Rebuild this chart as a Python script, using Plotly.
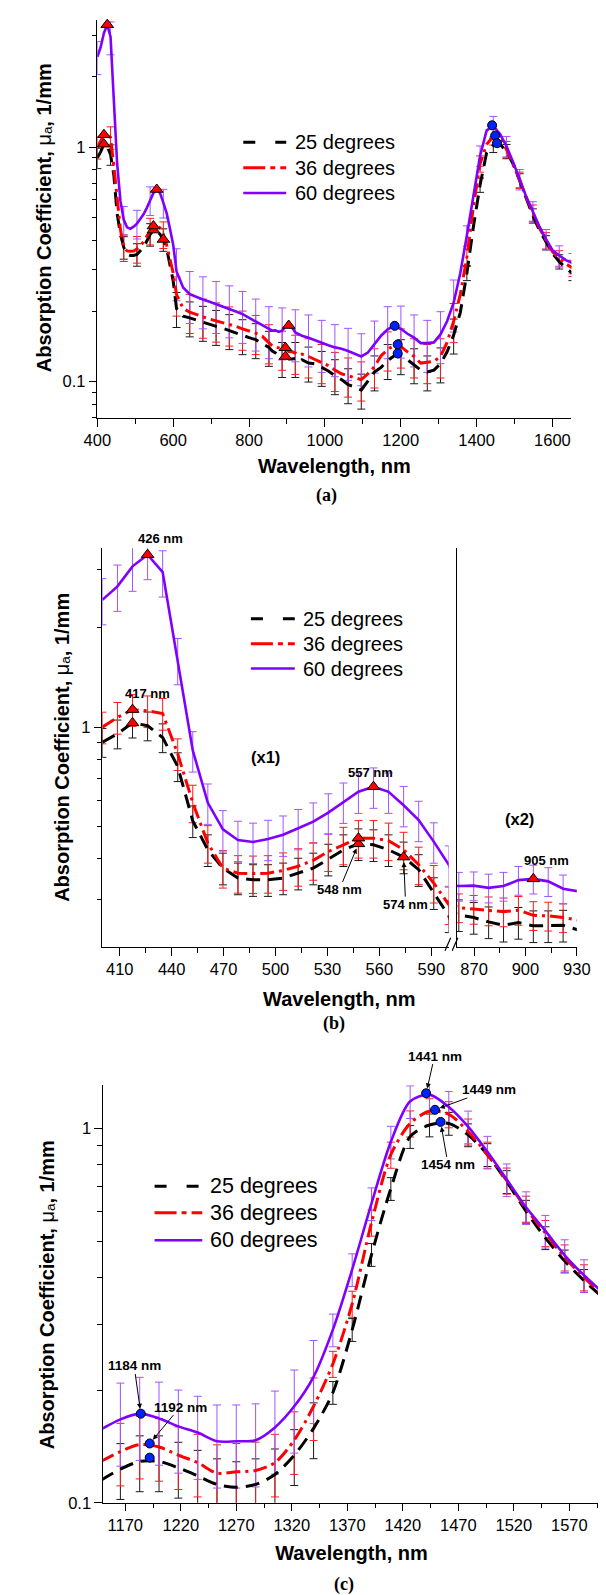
import math
import plotly.graph_objects as go

W, H = 606, 1595
SANS = "Liberation Sans, Arial, Helvetica, sans-serif"
SERIF = "Liberation Serif, Times New Roman, serif"

# ---------------- data ----------------
wavelength = [
    400.0, 408.7, 417.4, 426.1, 434.8, 443.5, 452.2, 460.9, 469.6, 478.3, 487.0, 495.7,
    504.4, 513.1, 521.8, 530.5, 539.2, 547.9, 556.6, 565.3, 574.0, 582.7, 591.4, 600.1,
    608.8, 626.2, 643.6, 661.0, 678.4, 695.8, 713.2, 730.6, 748.0, 765.4, 782.8, 800.2,
    817.6, 835.0, 852.4,
    861.1, 869.8, 878.5, 887.2, 895.9, 904.6, 913.3, 922.0, 930.7,
    939.4, 956.8, 974.2, 991.6, 1009.0, 1026.4, 1043.8, 1061.2, 1078.6, 1096.0, 1113.4,
    1130.8, 1148.2,
    1165.6, 1183.0, 1200.4, 1217.8, 1235.2, 1252.6, 1270.0, 1287.4, 1304.8, 1322.2,
    1339.6, 1357.0, 1374.4, 1391.8, 1409.2, 1426.6, 1444.0, 1461.4, 1478.8, 1496.2,
    1513.6, 1531.0, 1548.4, 1565.8, 1583.2, 1600.6, 1618.0, 1635.4, 1652.8,
]

mua_25 = [
    0.90, 0.955, 1.03, 1.01, 0.93, 0.76, 0.52, 0.425, 0.374, 0.349, 0.345, 0.345,
    0.349, 0.361, 0.374, 0.398, 0.425, 0.443, 0.44, 0.425, 0.404, 0.37, 0.315, 0.268,
    0.205, 0.190, 0.187, 0.183, 0.179, 0.175, 0.172, 0.169, 0.165, 0.161, 0.157, 0.154,
    0.151, 0.146, 0.140,
    0.135, 0.1325, 0.1285, 0.1255, 0.128, 0.125, 0.125, 0.1255, 0.1215,
    0.124, 0.120, 0.119, 0.115, 0.111, 0.106, 0.102, 0.097, 0.095, 0.092, 0.101,
    0.110, 0.115,
    0.123, 0.129, 0.129, 0.124, 0.118, 0.112, 0.110, 0.112, 0.119, 0.134,
    0.158, 0.197, 0.29, 0.46, 0.69, 0.95, 1.02, 1.03, 0.96, 0.85,
    0.72, 0.60, 0.51, 0.442, 0.392, 0.352, 0.325, 0.305, 0.29,
]

mua_36 = [
    1.00, 1.07, 1.13, 1.12, 1.10, 0.83, 0.59, 0.445, 0.374, 0.361, 0.360, 0.361,
    0.368, 0.379, 0.395, 0.42, 0.44, 0.461, 0.461, 0.453, 0.425, 0.383, 0.337, 0.29,
    0.235, 0.205, 0.198, 0.193, 0.189, 0.185, 0.182, 0.178, 0.175, 0.172, 0.168, 0.165,
    0.161, 0.156, 0.147,
    0.142, 0.1405, 0.139, 0.138, 0.1395, 0.1345, 0.134, 0.1325, 0.130,
    0.131, 0.128, 0.124, 0.121, 0.117, 0.112, 0.108, 0.106, 0.104, 0.102, 0.108,
    0.116, 0.129,
    0.137, 0.143, 0.141, 0.134, 0.128, 0.120, 0.121, 0.122, 0.128, 0.147,
    0.181, 0.235, 0.34, 0.56, 0.85, 1.03, 1.11, 1.09, 0.98, 0.85,
    0.725, 0.61, 0.525, 0.452, 0.40, 0.358, 0.335, 0.318, 0.305,
]

mua_60 = [
    2.43, 2.67, 3.07, 3.33, 2.95, 1.60, 0.85, 0.59, 0.49, 0.455, 0.449, 0.458,
    0.472, 0.494, 0.517, 0.551, 0.594, 0.637, 0.660, 0.637, 0.580, 0.523, 0.450, 0.383,
    0.295, 0.252, 0.236, 0.229, 0.224, 0.219, 0.214, 0.210, 0.205, 0.199, 0.194, 0.187,
    0.180, 0.173, 0.167,
    0.165, 0.1655, 0.163, 0.165, 0.172, 0.1735, 0.1705, 0.162, 0.159,
    0.157, 0.154, 0.150, 0.146, 0.143, 0.140, 0.138, 0.135, 0.131, 0.128, 0.133,
    0.145, 0.157,
    0.167, 0.173, 0.168, 0.160, 0.154, 0.146, 0.146, 0.147, 0.159, 0.181,
    0.217, 0.29, 0.42, 0.63, 0.92, 1.18, 1.23, 1.14, 1.01, 0.865,
    0.73, 0.615, 0.532, 0.458, 0.405, 0.363, 0.345, 0.33, 0.32,
]

series_names = ["25 degrees", "36 degrees", "60 degrees"]

# relative size of the error bars, per spectral band (upper band edges in nm)
err_band_upper = [450, 605, 1345, 1700]
err_rel_25 = [0.10, 0.11, 0.17, 0.07]
err_rel_36 = [0.11, 0.13, 0.19, 0.08]
err_rel_60 = [0.16, 0.14, 0.25, 0.10]
err_rel_inset = [0.11, 0.10, 0.10]  # 25, 36, 60 deg in the 860-930 nm (x2) inset

# marked peaks (triangles) and NIR peaks (circles)
tri_wl_25 = [417.4, 547.9, 574.0, 895.9]
tri_mu_25 = [1.03, 0.443, 0.404, 0.128]
tri_wl_36 = [417.4, 547.9, 895.9]
tri_mu_36 = [1.13, 0.461, 0.1395]
tri_wl_60 = [426.1, 556.6, 904.6]
tri_mu_60 = [3.33, 0.660, 0.1735]

circ_wl = [1184, 1192, 1192, 1441, 1449, 1454]
circ_mu = [0.173, 0.144, 0.132, 1.24, 1.12, 1.04]

# ---------------- styles ----------------
KEYS = ["25", "36", "60"]
VALUES = {"25": mua_25, "36": mua_36, "60": mua_60}
RELS = {"25": err_rel_25, "36": err_rel_36, "60": err_rel_60}
LINE_COL = {"25": "#000000", "36": "#FF0000", "60": "#7F00FF"}
ERR_COL = {"25": "#1A1A1A", "36": "#FF1A1A", "60": "#A055FF"}
DASH = {"25": "14px,8px", "36": "14px,5px,3px,5px", "60": "solid"}
LEG_DASH = {"25": "12px,20px", "36": "22px,5px,5px,5px", "60": "solid"}
LW = {"25": 3, "36": 3, "60": 2.6}


def px(x):
    return x / W


def py(y):
    return 1 - y / H


def rel_err(key, wl):
    rels = RELS[key]
    for edge, r in zip(err_band_upper, rels):
        if wl < edge:
            return r
    return rels[-1]


fig = go.Figure()


def add_panel(xa, ya, lo, hi, err_ok, scale=1.0, inset=False, spline=False):
    idx = [i for i, w in enumerate(wavelength) if lo <= w <= hi]
    for j, key in enumerate(KEYS):
        vals = VALUES[key]
        eidx = [i for i in idx if err_ok(wavelength[i])]
        ex = [wavelength[i] for i in eidx]
        ey = [vals[i] * scale for i in eidx]
        if inset:
            ee = [v * err_rel_inset[j] for v in ey]
        else:
            ee = [v * rel_err(key, w) for v, w in zip(ey, ex)]
        fig.add_trace(go.Scatter(
            x=ex, y=ey, mode="markers", xaxis=xa, yaxis=ya,
            marker=dict(size=1, color="rgba(0,0,0,0)"),
            error_y=dict(type="data", array=ee, color=ERR_COL[key], thickness=1, width=4),
            showlegend=False, hoverinfo="skip"))
    for j, key in enumerate(KEYS):
        vals = VALUES[key]
        fig.add_trace(go.Scatter(
            x=[wavelength[i] for i in idx], y=[vals[i] * scale for i in idx],
            mode="lines", xaxis=xa, yaxis=ya, name=series_names[j],
            line=dict(color=LINE_COL[key], width=LW[key], dash=DASH[key],
                      shape="spline" if spline else "linear", smoothing=0.8),
            showlegend=False))


def add_markers(xa, ya, wl_list, mu_list, symbol, color, size, scale=1.0):
    fig.add_trace(go.Scatter(
        x=wl_list, y=[m * scale for m in mu_list], mode="markers", xaxis=xa, yaxis=ya,
        marker=dict(symbol=symbol, size=size, color=color, line=dict(color="black", width=1)),
        cliponaxis=False, showlegend=False))


# ---- panel (a): full spectrum ----
add_panel("x", "y", 0, 2000, lambda w: round((w - 400) / 8.7) % 4 == 0)
add_markers("x", "y", tri_wl_25, tri_mu_25, "triangle-up", "#FF0000", 11)
add_markers("x", "y", tri_wl_36, tri_mu_36, "triangle-up", "#FF0000", 11)
add_markers("x", "y", tri_wl_60, tri_mu_60, "triangle-up", "#FF0000", 11)
add_markers("x", "y", circ_wl, circ_mu, "circle", "#0022FF", 9)

# ---- panel (b): visible (x1) and 860-930 nm (x2) ----
add_panel("x2", "y2", 400, 609, lambda w: w <= 600.5)
add_panel("x3", "y3", 852, 931, lambda w: 860 <= w <= 930, scale=2.0, inset=True)
for wl_l, mu_l in [(tri_wl_25, tri_mu_25), (tri_wl_36, tri_mu_36), (tri_wl_60, tri_mu_60)]:
    sel = [k for k, w in enumerate(wl_l) if w <= 600]
    add_markers("x2", "y2", [wl_l[k] for k in sel], [mu_l[k] for k in sel], "triangle-up", "#FF0000", 11)
add_markers("x3", "y3", [tri_wl_60[2]], [tri_mu_60[2]], "triangle-up", "#FF0000", 11, scale=2.0)

# ---- panel (c): NIR ----
add_panel("x4", "y4", 1148, 1601, lambda w: 1150 <= w <= 1597, spline=True)
add_markers("x4", "y4", circ_wl, circ_mu, "circle", "#0022FF", 9)

# ---------------- axes ----------------
tickfont = dict(family=SANS, size=16.5, color="black")
common = dict(showline=True, linecolor="black", linewidth=1.3, ticks="outside", ticklen=7.5,
              tickwidth=1.1, tickcolor="black", showgrid=False, zeroline=False,
              tickfont=tickfont)


def minor(vals):
    return dict(tickmode="array", tickvals=vals, ticks="outside", ticklen=4.5,
                tickwidth=1, tickcolor="black", showgrid=False)


xtitle = dict(text="<b>Wavelength, nm</b>", font=dict(family=SANS, size=20, color="black"))

fig.update_layout(
    xaxis=dict(common, domain=[px(79), px(576)], range=[400, 1650], anchor="y",
               tickmode="array", tickvals=[400, 600, 800, 1000, 1200, 1400, 1600],
               minor=minor([500, 700, 900, 1100, 1300, 1500]),
               title=dict(xtitle, standoff=10)),
    yaxis=dict(common, type="log", domain=[py(412.3), py(11.7)], range=[-1.155, 0.544],
               anchor="x", tickmode="array", tickvals=[0.1, 1], ticktext=["0.1", "1"],
               minor=minor([0.07, 0.08, 0.09, 0.2, 0.3, 0.4, 0.5, 0.6, 0.7, 0.8, 0.9, 2, 3])),
    xaxis2=dict(common, domain=[px(84.3), px(447.3)], range=[400, 600], anchor="y2",
                tickmode="array", tickvals=[410, 440, 470, 500, 530, 560, 590],
                minor=minor([425, 455, 485, 515, 545, 575])),
    yaxis2=dict(common, type="log", domain=[py(944.3), py(543.3)], range=[-0.666, 0.542],
                anchor="x2", tickmode="array", tickvals=[1], ticktext=["1"],
                minor=minor([0.3, 0.4, 0.5, 0.6, 0.7, 0.8, 0.9, 2, 3])),
    xaxis3=dict(common, domain=[px(456), px(581.7)], range=[860, 930], anchor="y3",
                tickmode="array", tickvals=[870, 900, 930], minor=minor([885, 915])),
    yaxis3=dict(type="log", domain=[py(944.3), py(543.3)], range=[-0.666, 0.542], anchor="x3",
                showline=True, linecolor="black", linewidth=1.3, ticks="",
                showticklabels=False, showgrid=False, zeroline=False),
    xaxis4=dict(common, domain=[px(85), 1.0], range=[1150, 1597.6], anchor="y4",
                tickmode="array", tickvals=[1170, 1220, 1270, 1320, 1370, 1420, 1470, 1520, 1570],
                minor=minor([1195, 1245, 1295, 1345, 1395, 1445, 1495, 1545, 1595]),
                title=dict(xtitle, standoff=12)),
    yaxis4=dict(common, type="log", domain=[py(1503.3), py(1083.3)], range=[-1.0, 0.115],
                anchor="x4", tickmode="array", tickvals=[0.1, 1], ticktext=["0.1", "1"],
                minor=minor([0.2, 0.3, 0.4, 0.5, 0.6, 0.7, 0.8, 0.9])),
)

# ---------------- legends (drawn per panel) ----------------
shapes = []
annotations = []
legend_specs = [
    # (row y positions, line x0, line x1, text x, font size)
    ([135, 160.7, 186], 232, 277, 284, 20),
    ([614.3, 639.3, 664.3], 240, 286, 292, 20),
    ([1185, 1211.7, 1239.3], 139, 189, 194.5, 21.5),
]
for rows, x0, x1, xt, fs in legend_specs:
    for j, key in enumerate(KEYS):
        yy = rows[j]
        shapes.append(dict(type="line", xref="paper", yref="paper", x0=px(x0), x1=px(x1),
                           y0=py(yy), y1=py(yy),
                           line=dict(color=LINE_COL[key], width=LW[key], dash=LEG_DASH[key])))
        annotations.append(dict(xref="paper", yref="paper", x=px(xt), y=py(yy), text=series_names[j],
                                showarrow=False, xanchor="left", yanchor="middle",
                                font=dict(family=SANS, size=fs, color="black")))

# axis break marks in panel (b)
for (xa0, ya0, xa1, ya1) in [(443.5, 948, 449.5, 935), (451.0, 948, 457.0, 935)]:
    shapes.append(dict(type="line", xref="paper", yref="paper", x0=px(xa0), y0=py(ya0),
                       x1=px(xa1), y1=py(ya1), line=dict(color="black", width=1.2)))

# y-axis titles
ytitle = "<b>Absorption Coefficient, </b>μₐ<b>, 1/mm</b>"
for (xc, yc) in [(22.5, 211), (42.5, 743.5), (25.7, 1294)]:
    annotations.append(dict(xref="paper", yref="paper", x=px(xc), y=py(yc), text=ytitle,
                            textangle=-90, showarrow=False, xanchor="center", yanchor="middle",
                            font=dict(family=SANS, size=20, color="black")))

# x-axis title for the broken axis of panel (b)
annotations.append(dict(xref="paper", yref="paper", x=px(332.4), y=py(996.7),
                        text="<b>Wavelength, nm</b>", showarrow=False,
                        xanchor="center", yanchor="middle",
                        font=dict(family=SANS, size=20, color="black")))

# panel letters
for (txt, xc, yc) in [("(a)", 319, 490.5), ("(b)", 326.6, 1021.7), ("(c)", 337.4, 1585)]:
    annotations.append(dict(xref="paper", yref="paper", x=px(xc), y=py(yc), text="<b>%s</b>" % txt,
                            showarrow=False, xanchor="center", yanchor="middle",
                            font=dict(family=SERIF, size=18, color="black")))

# plain peak labels
lab_b = [("426 nm", 145, 533.3), ("417 nm", 131.4, 689), ("557 nm", 365.6, 769.3),
         ("905 nm", 549.6, 857.3)]
for txt, xc, yc in lab_b:
    annotations.append(dict(xref="paper", yref="paper", x=px(xc), y=py(yc), text="<b>%s</b>" % txt,
                            showarrow=False, xanchor="center", yanchor="middle",
                            font=dict(family=SANS, size=13, color="black")))
for txt, xc, yc in [("(x1)", 255, 753), ("(x2)", 521.7, 816)]:
    annotations.append(dict(xref="paper", yref="paper", x=px(xc), y=py(yc), text="<b>%s</b>" % txt,
                            showarrow=False, xanchor="center", yanchor="middle",
                            font=dict(family=SANS, size=16.5, color="black")))

# labels with arrows pointing at the marked peaks (arrow head at the data point,
# label box centred at the pixel offset ax/ay)
arrow_labels = [
    ("548 nm", "x2", "y2", tri_wl_25[1], tri_mu_25[1], -19.2, 46.0, 13),
    ("574 nm", "x2", "y2", tri_wl_25[2], tri_mu_25[2], 2.0, 47.6, 13),
    ("1441 nm", "x4", "y4", circ_wl[3], circ_mu[3], 8.4, -37.2, 13.5),
    ("1449 nm", "x4", "y4", circ_wl[4], circ_mu[4], 54.0, -19.9, 13.5),
    ("1454 nm", "x4", "y4", circ_wl[5], circ_mu[5], 7.5, 43.0, 13.5),
    ("1184 nm", "x4", "y4", circ_wl[0], circ_mu[0], -6.7, -47.7, 13.5),
    ("1192 nm", "x4", "y4", circ_wl[1], circ_mu[1], 30.4, -36.4, 13.5),
]
for txt, xa, ya, wl, mu, axp, ayp, fs in arrow_labels:
    annotations.append(dict(xref=xa, yref=ya, x=wl, y=math.log10(mu), text="<b>%s</b>" % txt,
                            showarrow=True, ax=axp, ay=ayp, arrowhead=2, arrowsize=1,
                            arrowwidth=1, arrowcolor="black", standoff=5, borderpad=0,
                            font=dict(family=SANS, size=fs, color="black")))

fig.update_layout(
    width=W, height=H, margin=dict(l=0, r=0, t=0, b=0),
    paper_bgcolor="white", plot_bgcolor="white", showlegend=False,
    shapes=shapes, annotations=annotations,
    font=dict(family=SANS, color="black"),
)

fig.write_html("out.html")
